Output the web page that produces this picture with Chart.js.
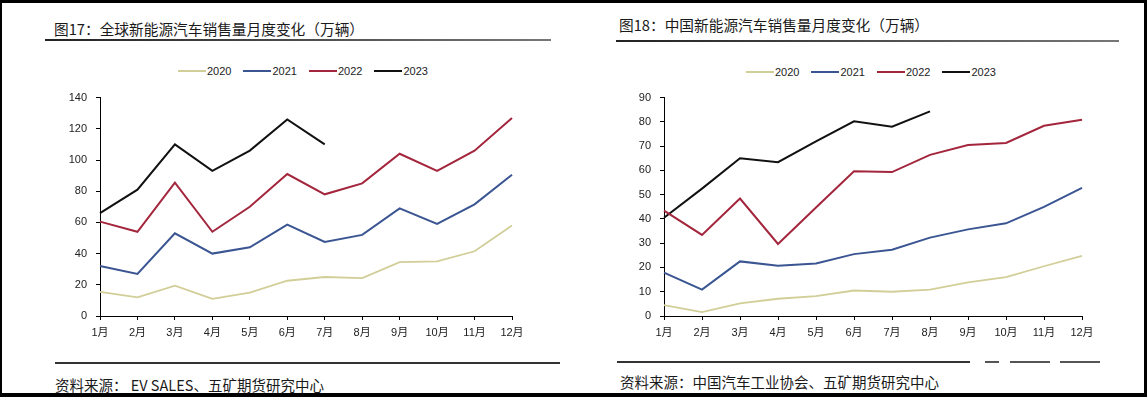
<!DOCTYPE html>
<html>
<head>
<meta charset="utf-8">
<script src="https://cdn.jsdelivr.net/npm/chart.js@4/dist/chart.umd.min.js"></script>
<style>
  html,body{margin:0;padding:0;background:#fff;}
  body{width:1147px;height:397px;position:relative;overflow:hidden;font-family:"Liberation Sans","Noto Sans CJK SC",sans-serif;}
  .abs{position:absolute;}
  .title{font-family:"Noto Sans CJK SC",sans-serif;font-size:14.7px;color:#1a1a1a;white-space:nowrap;line-height:16px;}
  .foot{font-family:"Noto Sans CJK SC",sans-serif;font-size:14.5px;color:#1a1a1a;white-space:nowrap;line-height:16px;}
  .rule{height:2px;background:linear-gradient(to right,#222,#555 60%,#777);}
  .legend{display:flex;align-items:center;font-size:11px;color:#222;white-space:nowrap;}
  .legend .it{display:flex;align-items:center;margin-right:12px;}
  .legend .ln{width:28px;height:2px;margin-right:1px;}
</style>
</head>
<body>
<!-- frame -->
<div class="abs" style="left:0;top:0;width:1147px;height:3px;background:#000"></div>
<div class="abs" style="left:0;top:0;width:2px;height:397px;background:#000"></div>
<div class="abs" style="left:1144px;top:0;width:3px;height:397px;background:#000"></div>
<div class="abs" style="left:0;top:393px;width:1147px;height:4px;background:#000"></div>

<div class="abs title" style="left:54px;top:21px">图17：全球新能源汽车销售量月度变化（万辆）</div>
<div class="abs rule" style="left:45px;top:39px;width:506px"></div>
<div class="abs title" style="left:619px;top:17px">图18：中国新能源汽车销售量月度变化（万辆）</div>
<div class="abs rule" style="left:616px;top:40px;width:503px"></div>

<div id="legL" class="abs legend" style="left:178px;top:65px"></div>
<div id="legR" class="abs legend" style="left:746px;top:66px"></div>

<canvas id="cL" class="abs" width="470" height="260" style="left:60px;top:82px"></canvas>
<canvas id="cR" class="abs" width="480" height="260" style="left:620px;top:82px"></canvas>

<div class="abs" style="left:55px;top:362px;width:505px;height:2px;background:#333"></div>
<div class="abs" style="left:617px;top:361px;width:353px;height:2px;background:#333"></div>
<div class="abs" style="left:985px;top:361px;width:14px;height:2px;background:#555"></div>
<div class="abs" style="left:1010px;top:361px;width:40px;height:2px;background:#555"></div>
<div class="abs" style="left:1060px;top:361px;width:40px;height:2px;background:#555"></div>

<div class="abs foot" style="left:55px;top:377px">资料来源： EV SALES、五矿期货研究中心</div>
<div class="abs foot" style="left:620px;top:374px">资料来源：中国汽车工业协会、五矿期货研究中心</div>

<script>
const months = ['1月','2月','3月','4月','5月','6月','7月','8月','9月','10月','11月','12月'];
const seriesNames = ['2020','2021','2022','2023'];
const seriesColors = ['#D2CE98','#3A5592','#A3263D','#111111'];

// 全球 (图17)
const global2020 = [15.5,12,19.5,11,15,22.6,25,24.3,34.5,35,41.5,58];
const global2021 = [32,27,53,40,44,58.6,47.5,52,69,59,71.6,90.6];
const global2022 = [60.5,54,85.5,54,70,91,78,85,104,93,106,127];
const global2023 = [66,81,110,93,106,126,110];

// 中国 (图18)
const china2020 = [4.5,1.6,5.2,7.1,8.2,10.5,10,10.9,13.9,16,20.5,24.8];
const china2021 = [17.9,10.9,22.5,20.7,21.6,25.5,27.3,32.3,35.7,38.2,45,52.8];
const china2022 = [43.4,33.4,48.4,29.7,44.7,59.6,59.3,66.4,70.5,71.3,78.4,80.9];
const china2023 = [40.5,52.5,65,63.4,72,80.2,78,84.3];

function legend(id){
  const el=document.getElementById(id);
  seriesNames.forEach((n,i)=>{
    const it=document.createElement('div');it.className='it';
    const ln=document.createElement('div');ln.className='ln';ln.style.background=seriesColors[i];
    const tx=document.createElement('span');tx.textContent=n;
    it.appendChild(ln);it.appendChild(tx);el.appendChild(it);
  });
}
legend('legL');legend('legR');

const tickFont={family:'"Liberation Sans","Noto Sans CJK SC",sans-serif',size:11};

function makeChart(id, data, yMax, yStep, yWidth, xHeight){
  return new Chart(document.getElementById(id),{
    type:'line',
    data:{labels:months,datasets:data.map((d,i)=>({
      label:seriesNames[i],data:d,borderColor:seriesColors[i],backgroundColor:seriesColors[i],
      borderWidth:i===0?1.8:2,pointRadius:0,tension:0,fill:false
    }))},
    options:{
      responsive:false,animation:false,devicePixelRatio:1,
      layout:{padding:{top:0,right:18,left:0,bottom:0}},
      plugins:{legend:{display:false},tooltip:{enabled:false}},
      scales:{
        x:{offset:false,
          grid:{drawOnChartArea:false,drawTicks:true,tickLength:4,color:'#000'},
          border:{color:'#000',width:1},
          ticks:{font:tickFont,color:'#222',padding:6,maxRotation:0,autoSkip:false},
          afterFit:s=>{s.height=xHeight;}
        },
        y:{min:0,max:yMax,
          grid:{drawOnChartArea:false,drawTicks:true,tickLength:4,color:'#000'},
          border:{color:'#000',width:1},
          ticks:{stepSize:yStep,font:tickFont,color:'#222',padding:9},
          afterFit:s=>{s.width=yWidth;}
        }
      }
    }
  });
}
makeChart('cL',[global2020,global2021,global2022,global2023],140,20,40,26);
makeChart('cR',[china2020,china2021,china2022,china2023],90,10,44,26);
</script>
</body>
</html>
